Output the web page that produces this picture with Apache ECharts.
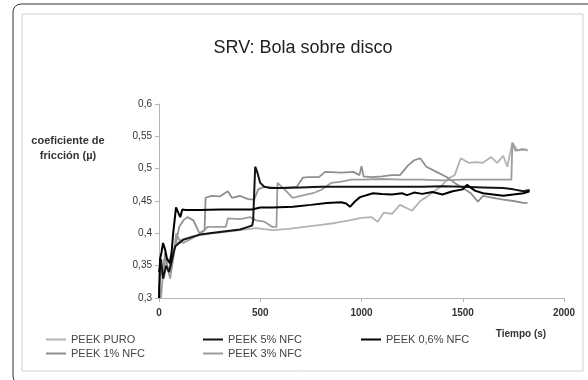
<!DOCTYPE html>
<html>
<head>
<meta charset="utf-8">
<script src="https://cdn.jsdelivr.net/npm/echarts@6/dist/echarts.min.js"></script>
<style>
  html, body { margin: 0; padding: 0; background: #fff; }
  #chart { width: 588px; height: 380px; }
</style>
</head>
<body>
<div id="chart"></div>
<script>
// series names (legend order)
const names = ['PEEK PURO', 'PEEK 5% NFC', 'PEEK 0,6% NFC', 'PEEK 1% NFC', 'PEEK 3% NFC']
const colors = ['#b3b3b3', '#141414', '#000000', '#8f8f8f', '#9c9c9c']

// tiempo (s) / coeficiente de fricción
const puroT = [0, 8, 15, 25, 35, 50, 70, 90, 110, 130, 160, 200, 260, 320, 400, 480, 560, 640, 720, 800, 870, 940, 1000, 1050, 1080, 1110, 1150, 1190, 1250, 1290, 1320, 1360, 1390, 1430, 1460, 1490, 1530, 1570, 1600, 1640, 1670, 1700, 1720, 1745, 1770, 1800, 1820]
const puroV = [0.30, 0.36, 0.34, 0.33, 0.35, 0.36, 0.37, 0.385, 0.39, 0.392, 0.395, 0.397, 0.40, 0.402, 0.405, 0.408, 0.405, 0.407, 0.41, 0.413, 0.416, 0.42, 0.424, 0.425, 0.418, 0.432, 0.43, 0.444, 0.435, 0.45, 0.456, 0.465, 0.472, 0.485, 0.49, 0.516, 0.509, 0.51, 0.509, 0.518, 0.509, 0.52, 0.503, 0.54, 0.528, 0.53, 0.528]

const nfc5T = [0, 10, 20, 35, 50, 65, 80, 100, 120, 150, 200, 250, 300, 350, 400, 440, 460, 465, 475, 485, 500, 520, 550, 600, 700, 800, 900, 1000, 1100, 1200, 1300, 1400, 1500, 1600, 1700, 1750, 1800, 1830]
const nfc5V = [0.34, 0.36, 0.33, 0.35, 0.34, 0.36, 0.38, 0.385, 0.39, 0.393, 0.398, 0.40, 0.402, 0.404, 0.406, 0.41, 0.412, 0.42, 0.503, 0.495, 0.478, 0.472, 0.47, 0.47, 0.471, 0.472, 0.472, 0.472, 0.472, 0.472, 0.472, 0.473, 0.472, 0.471, 0.47, 0.468, 0.465, 0.467]

const nfc06T = [0, 5, 12, 20, 30, 40, 54, 62, 70, 84, 95, 105, 115, 130, 200, 300, 400, 460, 500, 560, 662, 750, 829, 900, 924, 943, 970, 993, 1057, 1100, 1150, 1200, 1225, 1260, 1300, 1350, 1400, 1450, 1500, 1521, 1560, 1600, 1650, 1700, 1750, 1800, 1830]
const nfc06V = [0.30, 0.36, 0.37, 0.385, 0.375, 0.36, 0.354, 0.37, 0.40, 0.44, 0.432, 0.425, 0.437, 0.436, 0.436, 0.437, 0.437, 0.437, 0.44, 0.44, 0.441, 0.444, 0.447, 0.448, 0.446, 0.441, 0.45, 0.456, 0.462, 0.461, 0.46, 0.462, 0.459, 0.463, 0.461, 0.464, 0.46, 0.465, 0.468, 0.475, 0.466, 0.462, 0.46, 0.458, 0.46, 0.462, 0.465]

const nfc1T = [0, 10, 20, 30, 45, 60, 80, 100, 120, 140, 170, 200, 225, 230, 260, 300, 340, 360, 400, 440, 470, 490, 520, 600, 680, 710, 740, 790, 820, 900, 960, 990, 1000, 1010, 1050, 1100, 1150, 1190, 1230, 1260, 1290, 1320, 1370, 1420, 1460, 1500, 1540, 1575, 1600, 1650, 1700, 1750, 1800, 1820]
const nfc1V = [0.31, 0.35, 0.33, 0.37, 0.34, 0.36, 0.38, 0.41, 0.42, 0.425, 0.42, 0.40, 0.405, 0.455, 0.458, 0.457, 0.465, 0.455, 0.458, 0.453, 0.452, 0.468, 0.472, 0.47, 0.472, 0.486, 0.487, 0.487, 0.495, 0.494, 0.495, 0.49, 0.504, 0.488, 0.487, 0.488, 0.49, 0.49, 0.505, 0.513, 0.516, 0.503, 0.495, 0.487, 0.478, 0.47, 0.462, 0.449, 0.458, 0.455, 0.452, 0.45, 0.447, 0.447]

const nfc3T = [0, 10, 25, 40, 55, 70, 85, 100, 120, 150, 180, 210, 240, 330, 340, 400, 450, 480, 520, 560, 580, 585, 620, 660, 700, 760, 800, 850, 900, 950, 1000, 1100, 1200, 1300, 1400, 1500, 1600, 1700, 1740, 1745, 1760, 1790, 1820]
const nfc3V = [0.32, 0.30, 0.36, 0.35, 0.33, 0.36, 0.40, 0.39, 0.385, 0.39, 0.395, 0.40, 0.41, 0.41, 0.423, 0.422, 0.425, 0.42, 0.418, 0.41, 0.41, 0.478, 0.468, 0.455, 0.458, 0.462, 0.467, 0.478, 0.48, 0.483, 0.483, 0.484, 0.483, 0.483, 0.482, 0.483, 0.483, 0.483, 0.483, 0.54, 0.528, 0.53, 0.529]

const xTicks = [0, 500, 1000, 1500, 2000]
const yMin = 0.3
const yMax = 0.6

const zip = (t, v) => t.map((x, i) => [x, v[i]])
const seriesData = [zip(puroT, puroV), zip(nfc5T, nfc5V), zip(nfc06T, nfc06V), zip(nfc1T, nfc1V), zip(nfc3T, nfc3V)]

// one small legend per item so the columns sit where they are in the picture
const legendPos = [[46, 334], [203, 334], [361, 334], [46, 348], [203, 348]]

const chart = echarts.init(document.getElementById('chart'))
const option = {
  animation: false,
  textStyle: { fontFamily: 'Liberation Sans, Arial, sans-serif' },
  title: {
    text: 'SRV: Bola sobre disco',
    left: 298,
    textAlign: 'center',
    top: 34,
    textStyle: { fontSize: 18, fontWeight: 'normal', color: '#222' }
  },
  grid: { left: 159, right: 24, top: 104, bottom: 82 },
  legend: names.map((n, i) => ({
    data: [n],
    left: legendPos[i][0],
    top: legendPos[i][1],
    padding: 0,
    icon: 'rect',
    itemWidth: 20,
    itemHeight: 2,
    textStyle: { fontSize: 11, color: '#444' }
  })),
  xAxis: {
    type: 'value',
    min: xTicks[0],
    max: xTicks[xTicks.length - 1],
    interval: 500,
    name: 'Tiempo (s)',
    nameLocation: 'end',
    nameGap: 0,
    nameTextStyle: {
      fontSize: 10, fontWeight: 'bold', color: '#333',
      align: 'center', verticalAlign: 'top', padding: [31, 0, 0, -86]
    },
    axisLine: { lineStyle: { color: '#b5b5b5' } },
    axisTick: { length: 4, lineStyle: { color: '#b5b5b5' } },
    axisLabel: { fontSize: 10, fontWeight: 'bold', color: '#333', margin: 10, formatter: v => String(v) },
    splitLine: { show: false }
  },
  yAxis: {
    type: 'value',
    min: yMin,
    max: yMax,
    interval: 0.05,
    axisLine: { show: true, lineStyle: { color: '#b5b5b5' } },
    axisTick: { show: true, length: 4, lineStyle: { color: '#b5b5b5' } },
    axisLabel: {
      fontSize: 10, color: '#333', margin: 7,
      formatter: v => String(Math.round(v * 100) / 100).replace('.', ',')
    },
    splitLine: { show: false }
  },
  series: names.map((n, i) => ({
    name: n,
    type: 'line',
    data: seriesData[i],
    symbol: 'none',
    color: colors[i],
    lineStyle: { width: i === 1 || i === 2 ? 2 : 1.8, color: colors[i] },
    z: i === 1 || i === 2 ? 3 : 2
  })),
  graphic: [
    {
      type: 'rect',
      shape: { x: 13, y: 4, width: 600, height: 380, r: 8 },
      style: { fill: 'none', stroke: '#333', lineWidth: 1 },
      silent: true
    },
    {
      type: 'rect',
      shape: { x: 22, y: 14, width: 561, height: 357 },
      style: { fill: 'none', stroke: '#cfcfcf', lineWidth: 1 },
      silent: true
    },
    {
      type: 'text',
      x: 68,
      y: 133,
      style: {
        text: 'coeficiente de\nfricción (µ)',
        align: 'center',
        verticalAlign: 'top',
        fill: '#333',
        font: 'bold 11px Liberation Sans, Arial, sans-serif',
        lineHeight: 15
      },
      silent: true
    }
  ]
}
chart.setOption(option)
</script>
</body>
</html>
